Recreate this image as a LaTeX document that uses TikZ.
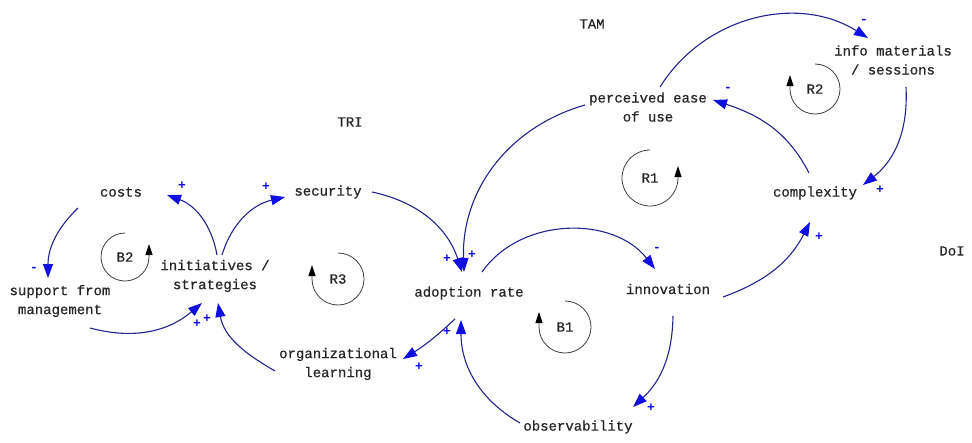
\documentclass[tikz,border=0pt]{standalone}
\usepackage{fontspec}
\newfontfamily\courier[FakeBold=0.6]{Liberation Mono}
\newfontfamily\signfont{Liberation Mono}
\usepackage{tikz}
\usetikzlibrary{arrows.meta, calc}
\definecolor{linkblue}{RGB}{35,35,140}
\definecolor{tipblue}{RGB}{15,15,225}
\tikzset{
  var/.style={font=\courier\fontsize{14}{19}\selectfont, align=center, inner sep=0pt, text=black!85},
  link/.style={draw=linkblue, line width=1.1pt, -{Triangle[length=14pt,width=10pt,color=tipblue]}},
  sign/.style={font=\signfont\bfseries\fontsize{13}{13}\selectfont, text=tipblue, inner sep=0pt},
  loopline/.style={draw=black!75, line width=0.8pt, -{Triangle[length=11pt,width=7pt,color=black]}}
}

\begin{document}
\begin{tikzpicture}[x=1pt,y=1pt]
        \useasboundingbox (0,0) rectangle (972,-442);
        \node[var] (tam) at (592,-24) {TAM};
        \node[var] (tri) at (350,-122) {TRI};
        \node[var] (doi) at (952,-251) {DoI};
        \node[var] (costs) at (121,-192) {costs};
        \node[var] (security) at (328,-192) {security};
        \node[var] (init) at (215,-276) {initiatives /\\strategies};
        \node[var] (support) at (60,-301) {support from\\management};
        \node[var] (adoption) at (469,-293) {adoption rate};
        \node[var] (innov) at (668,-289) {innovation};
        \node[var] (observ) at (578,-427) {observability};
        \node[var] (orglearn) at (338,-364) {organizational\\learning};
        \node[var] (ease) at (648,-107) {perceived ease\\of use};
        \node[var] (info) at (893,-60) {info materials\\/ sessions};
        \node[var] (complex) at (815,-193) {complexity};
        \node[var] (b2) at (125,-257) {B2};
        \node[var] (r3) at (338,-279) {R3};
        \node[var] (b1) at (565,-327) {B1};
        \node[var] (r1) at (650,-178) {R1};
        \node[var] (r2) at (815,-89) {R2};
        \draw[link] ($(costs)+(-43,-16)$) to[out=-136,in=90] ($(support)+(-12,23)$) node[sign,shift={(-14,9)}] {-};
        \draw[link] ($(init)+(2,21)$) to[out=100,in=-20] ($(costs)+(46,-3)$) node[sign,shift={(15,9)}] {+};
        \draw[link] ($(init)+(7,21)$) to[out=73,in=-167] ($(security)+(-43,-5)$) node[sign,shift={(-19,10)}] {+};
        \draw[link] ($(security)+(44,0)$) to[out=-12,in=108] ($(adoption)+(-7,21)$) node[sign,shift={(-15,13)}] {+};
        \draw[link] ($(ease)+(-63,2)$) to[out=196,in=92] ($(adoption)+(-5,21)$) node[sign,shift={(8,17)}] {+};
        \draw[link] ($(adoption)+(13,21)$) to[out=55,in=128] ($(innov)+(-13,20)$) node[sign,shift={(2,20)}] {-};
        \draw[link] ($(innov)+(5,-27)$) to[out=-91,in=43] ($(observ)+(55,20)$) node[sign,shift={(18,-1)}] {+};
        \draw[link] ($(observ)+(-58,4)$) to[out=150,in=-90] ($(adoption)+(-8,-27)$) node[sign,shift={(-14,-12)}] {+};
        \draw[link] ($(adoption)+(-14,-26)$) to[out=223,in=32] ($(orglearn)+(65,5)$) node[sign,shift={(16,-8)}] {+};
        \draw[link] ($(orglearn)+(-63,-7)$) to[out=150,in=-80] ($(init)+(3,-27)$) node[sign,shift={(-11,-16)}] {+};
        \draw[link] ($(support)+(30,-27)$) to[out=-15,in=220] ($(init)+(-13,-27)$) node[sign,shift={(-5,-21)}] {+};
        \draw[link] ($(ease)+(12,20)$) to[out=58,in=148] ($(info)+(-25,22)$) node[sign,shift={(-4,17)}] {-};
        \draw[link] ($(info)+(13,-27)$) to[out=-87,in=38] ($(complex)+(48,8)$) node[sign,shift={(17,-5)}] {+};
        \draw[link] ($(complex)+(-6,20)$) to[out=117,in=-18] ($(ease)+(65,7)$) node[sign,shift={(15,11)}] {-};
        \draw[link] ($(innov)+(55,-8)$) to[out=20,in=-117] ($(complex)+(-5,-29)$) node[sign,shift={(9,-15)}] {+};
        \draw[loopline] ($(b2)+(90:24)$) arc[start angle=90,end angle=360,radius=24] -- ++(0,13);
        \draw[loopline] ($(r1)+(90:28)$) arc[start angle=90,end angle=360,radius=28] -- ++(0,12);
        \draw[loopline] ($(r3)+(90:26)$) arc[start angle=90,end angle=-180,radius=26] -- ++(0,14);
        \draw[loopline] ($(b1)+(90:26)$) arc[start angle=90,end angle=-180,radius=26] -- ++(0,15);
        \draw[loopline] ($(r2)+(90:25)$) arc[start angle=90,end angle=-180,radius=25] -- ++(0,14);
      \end{tikzpicture}
\end{document}
